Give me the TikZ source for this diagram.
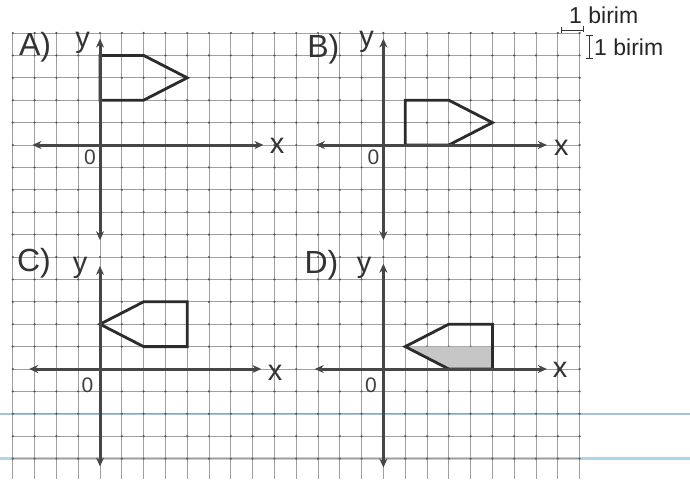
\documentclass[tikz,border=0pt]{standalone}
\usepackage{fontspec}
\setmainfont{Liberation Sans}
\usetikzlibrary{arrows.meta}
\definecolor{axiscol}{HTML}{464646}
\definecolor{shapecol}{HTML}{2B2B2B}
\definecolor{gridcol}{HTML}{A0A0A0}
\definecolor{dotcol}{HTML}{555555}
\definecolor{fillcol}{HTML}{C6C6C6}
\definecolor{blueA}{HTML}{A3C6D2}
\definecolor{blueB}{HTML}{ADD6EE}
\tikzset{
  gridline/.style={gridcol, line width=0.7pt},
  griddot/.style={fill=dotcol},
  axisline/.style={axiscol, line width=3pt, {Stealth[length=9pt,width=8pt]}-{Stealth[length=9pt,width=8pt]}},
  figline/.style={shapecol, line width=2.8pt, line join=miter},
  paneltxt/.style={inner sep=0pt, font=\fontsize{32}{34}\selectfont, text=black!80},
  axtxt/.style={inner sep=0pt, font=\fontsize{29}{31}\selectfont, text=black!80},
  zerotxt/.style={inner sep=0pt, font=\fontsize{21}{23}\selectfont, text=black!75},
  unittxt/.style={inner sep=0pt, font=\fontsize{23}{25}\selectfont, text=black!85},
  thinmark/.style={black!80, line width=0.9pt},
}
\begin{document}
\begin{tikzpicture}[x=1pt,y=-1pt]
\useasboundingbox (0,0) rectangle (690,479);
\fill[white] (0,0) rectangle (690,479);
% faint blue ruling of the paper
\draw[blueA, line width=2.5pt] (0,413.8) -- (690,413.8);
\draw[blueB, line width=2.5pt] (0,458.6) -- (690,458.6);
% grid
\foreach \i in {0,...,26} \draw[gridline] ({12.8+21.8*\i},33) -- ({12.8+21.8*\i},479);
\foreach \j in {0,...,19} \draw[gridline] (12.8,{33+22.4*\j}) -- (579.6,{33+22.4*\j});
\foreach \i in {0,...,26} \foreach \j in {0,...,19} \fill[griddot] ({12.8+21.8*\i},{33+22.4*\j}) circle (1.2pt);

% ---------- A ----------
\begin{scope}[shift={(100,145)}, x=21.8pt, y=22.4pt]
  \draw[figline] (0,2) -- (0,4) -- (2,4) -- (4,3) -- (2,2) -- cycle;
  \draw[axisline] (-3.1,0) -- (7.5,0);
  \draw[axisline] (0,-4.25) -- (0,4.75);
  \node[paneltxt] (lA) at (-65pt,97.5pt) {A)};
  \node[axtxt] (yA) at (-17.5pt,102.5pt) {y};
  \node[axtxt] (xA) at (177pt,-1pt) {x};
  \node[zerotxt] (oA) at (-10pt,-12.5pt) {0};
\end{scope}

% ---------- B ----------
\begin{scope}[shift={(383.4,145)}, x=21.8pt, y=22.4pt]
  \draw[figline] (1,0) -- (1,2) -- (3,2) -- (5,1) -- (3,0) -- cycle;
  \draw[axisline] (-3.1,0) -- (7.5,0);
  \draw[axisline] (0,-4.25) -- (0,4.75);
  \node[paneltxt] (lB) at (-60pt,96pt) {B)};
  \node[axtxt] (yB) at (-16.7pt,103.5pt) {y};
  \node[axtxt] (xB) at (178pt,-2.5pt) {x};
  \node[zerotxt] (oB) at (-10pt,-12.5pt) {0};
\end{scope}

% ---------- C ----------
\begin{scope}[shift={(100,369)}, x=21.8pt, y=22.4pt]
  \draw[figline] (0,2) -- (2,3) -- (4,3) -- (4,1) -- (2,1) -- cycle;
  \draw[axisline] (-3.25,0) -- (7.4,0);
  \draw[axisline] (0,-4.35) -- (0,4.6);
  \node[paneltxt] (lC) at (-66pt,106pt) {C)};
  \node[axtxt] (yC) at (-20pt,101pt) {y};
  \node[axtxt] (xC) at (175pt,-3.5pt) {x};
  \node[zerotxt] (oC) at (-12.5pt,-16pt) {0};
\end{scope}

% ---------- D ----------
\begin{scope}[shift={(383.4,369)}, x=21.8pt, y=22.4pt]
  \fill[fillcol] (1,1) -- (5,1) -- (5,0) -- (3,0) -- cycle;
  \draw[figline] (1,1) -- (3,2) -- (5,2) -- (5,0) -- (3,0) -- cycle;
  \draw[axisline] (-3.15,0) -- (7.5,0);
  \draw[axisline] (0,-4.4) -- (0,4.7);
  \node[paneltxt] (lD) at (-62pt,104pt) {D)};
  \node[axtxt] (yD) at (-19.4pt,100.7pt) {y};
  \node[axtxt] (xD) at (176.6pt,-1pt) {x};
  \node[zerotxt] (oD) at (-12.4pt,-16pt) {0};
\end{scope}

% ---------- unit legend ----------
\draw[thinmark] (561.7,26.5) -- (561.7,33) (561.7,30) -- (583.3,30) (583.3,26) -- (583.3,32);
\node[unittxt, anchor=base west] (u1) at (569,23.3) {1 birim};
\draw[thinmark] (586,35) -- (593,35) (589.3,35) -- (589.3,58.3) (586,58.3) -- (593,58.3);
\node[unittxt, anchor=base west] (u2) at (594,55) {1 birim};
\end{tikzpicture}
\end{document}
